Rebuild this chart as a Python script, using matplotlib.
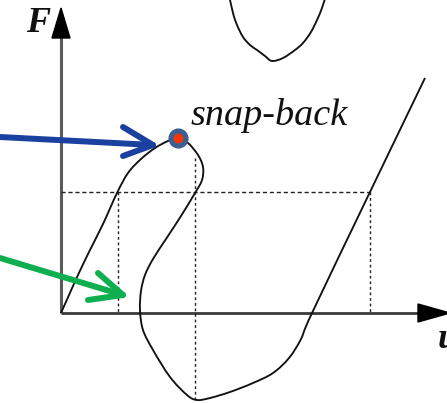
import matplotlib
matplotlib.use("Agg")
import matplotlib.pyplot as plt
from matplotlib.patches import Polygon, PathPatch
from matplotlib.path import Path

# Load-displacement path (u, F) with the snap-back loop
curve_u = [0, 8, 17, 28, 42, 56, 67, 80, 94, 107, 117, 127, 137, 142, 141, 134,
           120, 105, 92, 84, 80, 79, 82, 92, 109, 126, 136, 149, 169, 192, 212,
           228, 240, 251, 309, 364]
curve_F = [0, 18, 38, 61, 89, 120, 140, 154, 165, 172, 175, 170, 158, 146, 133, 120,
           97, 74, 54, 38, 22, 3, -17, -37, -64, -82, -87, -85, -79, -70, -60,
           -45, -26, 0, 121, 235]

# Upper branch of the equilibrium path
top_u = [168, 172, 176, 182, 189, 196, 204, 211, 222, 234, 242, 250, 256, 261, 265]
top_F = [318, 300, 288, 276, 268, 263, 257, 252, 255, 263, 270, 281, 293, 305, 318]

# Snap-back point
snap_u, snap_F = 117, 175

# Reference load level and its intersections
F_level = 121
u_cross = [57, 134, 309]
u_mid_top, u_mid_bottom = 155, -87


def smooth_path(xs, ys):
    """Catmull-Rom curve through the given vertices, as cubic Bezier segments."""
    pts = list(zip(xs, ys))
    n = len(pts)
    verts = [pts[0]]
    codes = [Path.MOVETO]
    for i in range(n - 1):
        p0 = pts[i - 1] if i > 0 else pts[i]
        p1 = pts[i]
        p2 = pts[i + 1]
        p3 = pts[i + 2] if i + 2 < n else pts[i + 1]
        c1 = (p1[0] + (p2[0] - p0[0]) / 6, p1[1] + (p2[1] - p0[1]) / 6)
        c2 = (p2[0] - (p3[0] - p1[0]) / 6, p2[1] - (p3[1] - p1[1]) / 6)
        verts += [c1, c2, p2]
        codes += [Path.CURVE4] * 3
    return Path(verts, codes)


fig = plt.figure(figsize=(4.47, 4.03), dpi=100)
ax = fig.add_axes([0, 0, 1, 1])
ax.set_xlim(-61, 386)
ax.set_ylim(-90, 313)
ax.axis("off")

# Coordinate axes with filled arrowheads
ax.plot([0, 0], [0, 276], color="#5a5a5a", lw=2.2, solid_capstyle="butt", zorder=2)
ax.add_patch(Polygon([[-9, 275], [9, 275], [0, 305]], closed=True,
                     color="black", zorder=3))
ax.plot([0, 358], [0, 0], color="#3a3a3a", lw=2.0, solid_capstyle="butt", zorder=2)
ax.add_patch(Polygon([[357, 9], [357, -9], [389, 0]], closed=True,
                     color="black", zorder=3))

# Dashed construction lines
ax.plot([0, u_cross[2]], [F_level, F_level], color="#222222", lw=1.0,
        linestyle=(0, (3, 2)), zorder=2)
ax.plot([u_cross[0], u_cross[0]], [F_level, 0], color="#222222", lw=1.0,
        linestyle=(0, (2, 2)), zorder=2)
ax.plot([u_cross[2], u_cross[2]], [F_level, 0], color="#222222", lw=1.0,
        linestyle=(0, (2, 2)), zorder=2)
ax.plot([u_cross[1], u_cross[1]], [u_mid_top, u_mid_bottom], color="#222222",
        lw=1.0, linestyle=(0, (2, 2)), zorder=2)

# Equilibrium paths
for xs, ys in [(curve_u, curve_F), (top_u, top_F)]:
    ax.add_patch(PathPatch(smooth_path(xs, ys), facecolor="none",
                           edgecolor="#111111", lw=1.35, zorder=4))

# Snap-back marker
ax.plot([snap_u], [snap_F], marker="o", ms=13.5, mfc="#3d5f91", mec="#3d5f91",
        zorder=6)
ax.plot([snap_u], [snap_F], marker="o", ms=6, mfc="#ff3300", mec="#ff3300",
        zorder=7)

# Pointer arrows
blue = "#1a40a0"
ax.plot([-61, 92], [176, 168], color=blue, lw=4.3, solid_capstyle="round", zorder=5)
ax.plot([62, 92, 62], [186, 168, 157], color=blue, lw=4.3,
        solid_capstyle="round", solid_joinstyle="round", zorder=5)
green = "#0fae4f"
ax.plot([-61, 62], [55, 18], color=green, lw=4.3, solid_capstyle="round", zorder=5)
ax.plot([37, 62, 27], [40, 18, 13], color=green, lw=4.3,
        solid_capstyle="round", solid_joinstyle="round", zorder=5)

# Labels
ax.text(-23, 289, "F", fontsize=26, fontfamily="Liberation Serif", fontweight="bold",
        fontstyle="italic", ha="center", va="center", color="#111111")
ax.text(377, -27, "u", fontsize=26, fontfamily="Liberation Serif", fontweight="bold",
        fontstyle="italic", ha="left", va="center", color="#111111")
ax.text(130, 188, "snap-back", fontsize=27.5, fontfamily="Liberation Serif",
        fontstyle="italic", ha="left", va="baseline", color="#111111")

fig.savefig("out.png", dpi=100)
